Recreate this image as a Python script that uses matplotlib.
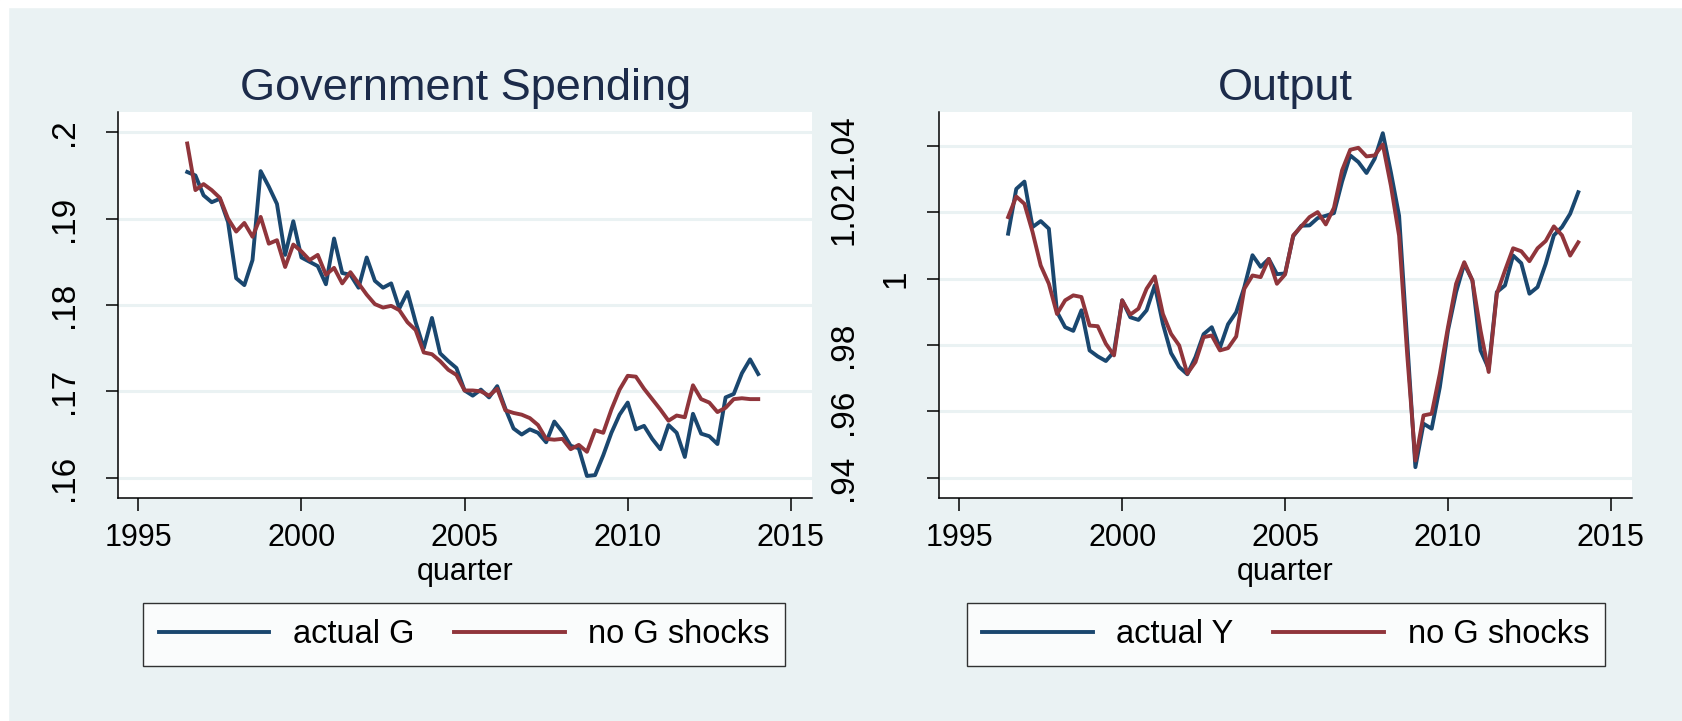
import numpy as np
import matplotlib.pyplot as plt
import matplotlib.transforms as mtransforms
from matplotlib.patches import Rectangle

plt.rcParams['font.family'] = ['Liberation Sans', 'DejaVu Sans']

# quarterly dates, 1996q3 .. 2014q1
quarter = np.arange(1996.5, 2014.01, 0.25)

# Government spending
actual_g = [0.1954, 0.1950, 0.1927, 0.1919, 0.1923, 0.1896, 0.1831, 0.1823,
            0.1852, 0.1955, 0.1937, 0.1917, 0.1858, 0.1897, 0.1855, 0.1850,
            0.1845, 0.1824, 0.1877, 0.1837, 0.1835, 0.1820, 0.1855, 0.1828,
            0.1820, 0.1825, 0.1796, 0.1815, 0.1780, 0.1750, 0.1785, 0.1744,
            0.1735, 0.1727, 0.1701, 0.1695, 0.1702, 0.1693, 0.1706, 0.1680,
            0.1657, 0.1650, 0.1656, 0.1652, 0.1641, 0.1665, 0.1653, 0.1637,
            0.1634, 0.1602, 0.1603, 0.1626, 0.1652, 0.1673, 0.1687, 0.1656,
            0.1660, 0.1645, 0.1633, 0.1661, 0.1652, 0.1624, 0.1674, 0.1651,
            0.1648, 0.1639, 0.1693, 0.1697, 0.1721, 0.1737, 0.1720]
nog_g = [0.1987, 0.1933, 0.1940, 0.1933, 0.1924, 0.1900, 0.1885, 0.1895,
         0.1879, 0.1902, 0.1871, 0.1875, 0.1844, 0.1870, 0.1862, 0.1852,
         0.1858, 0.1835, 0.1843, 0.1825, 0.1838, 0.1825, 0.1812, 0.1801,
         0.1797, 0.1799, 0.1794, 0.1780, 0.1771, 0.1745, 0.1743, 0.1735,
         0.1725, 0.1719, 0.1701, 0.1701, 0.1700, 0.1695, 0.1703, 0.1678,
         0.1675, 0.1673, 0.1669, 0.1661, 0.1645, 0.1644, 0.1645, 0.1633,
         0.1638, 0.1630, 0.1655, 0.1652, 0.1679, 0.1702, 0.1718, 0.1717,
         0.1703, 0.1691, 0.1679, 0.1666, 0.1672, 0.1670, 0.1707, 0.1691,
         0.1687, 0.1676, 0.1681, 0.1691, 0.1692, 0.1691, 0.1691]

# Output
actual_y = [1.0136, 1.0271, 1.0293, 1.0156, 1.0174, 1.0151, 0.9900, 0.9854,
            0.9843, 0.9905, 0.9784, 0.9766, 0.9752, 0.9780, 0.9935, 0.9884,
            0.9876, 0.9905, 0.9980, 0.9864, 0.9776, 0.9734, 0.9712, 0.9764,
            0.9833, 0.9854, 0.9792, 0.9863, 0.9899, 0.9975, 1.0071, 1.0036,
            1.0060, 1.0014, 1.0016, 1.0128, 1.0160, 1.0161, 1.0183, 1.0190,
            1.0198, 1.0293, 1.0372, 1.0352, 1.0319, 1.0362, 1.0439, 1.0320,
            1.0190, 0.9810, 0.9432, 0.9563, 0.9548, 0.9673, 0.9844, 0.9960,
            1.0045, 0.9995, 0.9784, 0.9729, 0.9960, 0.9980, 1.0070, 1.0047,
            0.9955, 0.9975, 1.0045, 1.0131, 1.0156, 1.0196, 1.0261]
nog_y = [1.0186, 1.0248, 1.0226, 1.0141, 1.0040, 0.9985, 0.9894, 0.9935,
         0.9950, 0.9945, 0.9859, 0.9857, 0.9804, 0.9769, 0.9935, 0.9892,
         0.9910, 0.9970, 1.0007, 0.9894, 0.9834, 0.9799, 0.9714, 0.9749,
         0.9824, 0.9829, 0.9784, 0.9791, 0.9826, 0.9970, 1.0010, 1.0005,
         1.0060, 0.9985, 1.0013, 1.0131, 1.0158, 1.0186, 1.0201, 1.0164,
         1.0214, 1.0327, 1.0389, 1.0395, 1.0369, 1.0372, 1.0405, 1.0280,
         1.0130, 0.9770, 0.9452, 0.9588, 0.9593, 0.9714, 0.9854, 0.9985,
         1.0050, 0.9995, 0.9844, 0.9719, 0.9955, 1.0025, 1.0092, 1.0083,
         1.0053, 1.0092, 1.0114, 1.0158, 1.0131, 1.0070, 1.0110]

xticks = [1995, 2000, 2005, 2010, 2015]
g_ticks = [0.16, 0.17, 0.18, 0.19, 0.2]
g_labels = ['.16', '.17', '.18', '.19', '.2']
y_ticks = [0.94, 0.96, 0.98, 1.0, 1.02, 1.04]
y_labels = ['.94', '.96', '.98', '1', '1.02', '1.04']

navy = '#1A476F'
maroon = '#90353B'
bg = '#EAF2F3'

fig = plt.figure(figsize=(16.82, 7.21), dpi=100, facecolor=bg)
# thin white margin along the top and left edges
fig.patches.append(Rectangle((0, 0), 8 / 1682, 1, transform=fig.transFigure,
                             color='white', zorder=0))
fig.patches.append(Rectangle((0, 1 - 7 / 721), 1, 7 / 721, transform=fig.transFigure,
                             color='white', zorder=0))

ax1 = fig.add_axes([0.0702, 0.3093, 0.4126, 0.5354])
ax2 = fig.add_axes([0.5583, 0.3093, 0.4120, 0.5354])

panels = [
    (ax1, 'Government Spending', actual_g, nog_g, 'actual G', g_ticks, g_labels,
     (0.15765, 0.20235), 0.2759),
    (ax2, 'Output', actual_y, nog_y, 'actual Y', y_ticks, y_labels,
     (0.9339, 1.0503), 0.7643),
]

for ax, title, act, nog, lab, yt, yl, ylim, legx in panels:
    ax.set_facecolor('white')
    l1, = ax.plot(quarter, act, color=navy, lw=2.8)
    l2, = ax.plot(quarter, nog, color=maroon, lw=2.8)
    ax.set_xlim(1994.38, 2015.65)
    ax.set_ylim(*ylim)
    ax.set_xticks(xticks)
    ax.set_yticks(yt)
    ax.set_yticklabels(yl, rotation=90, va='center')
    ax.grid(axis='y', color=bg, lw=2.2)
    ax.set_axisbelow(True)
    for s in ['top', 'right']:
        ax.spines[s].set_visible(False)
    for s in ['left', 'bottom']:
        ax.spines[s].set_linewidth(1.1)
    ax.tick_params(axis='both', length=9, width=1.1)
    ax.tick_params(axis='x', pad=8.9, labelsize=22)
    ax.tick_params(axis='y', labelsize=24)
    ax.set_xlabel('quarter', fontsize=22, labelpad=3.3)
    ax.set_title(title, fontsize=32.5, color='#1C2B4A', pad=8.6)
    leg = fig.legend([l1, l2], [lab, 'no G shocks'], loc='center',
                     bbox_to_anchor=(legx, 0.1198), ncol=2, fontsize=23.5,
                     frameon=True, fancybox=False, edgecolor='black',
                     handlelength=3.39, handletextpad=0.72, columnspacing=1.22,
                     borderpad=0.48)
    leg.get_frame().set_linewidth(1.0)

ax1.tick_params(axis='y', pad=18.7)
ax2.tick_params(axis='y', pad=48.6)

# the "1" label sits closer to the axis than the others
fig.canvas.draw()
for t in ax2.get_yticklabels():
    if t.get_text() == '1':
        t.set_transform(t.get_transform() + mtransforms.ScaledTranslation(
            0.52, 0, fig.dpi_scale_trans))

plt.savefig('out.png', dpi=100, facecolor=bg)
